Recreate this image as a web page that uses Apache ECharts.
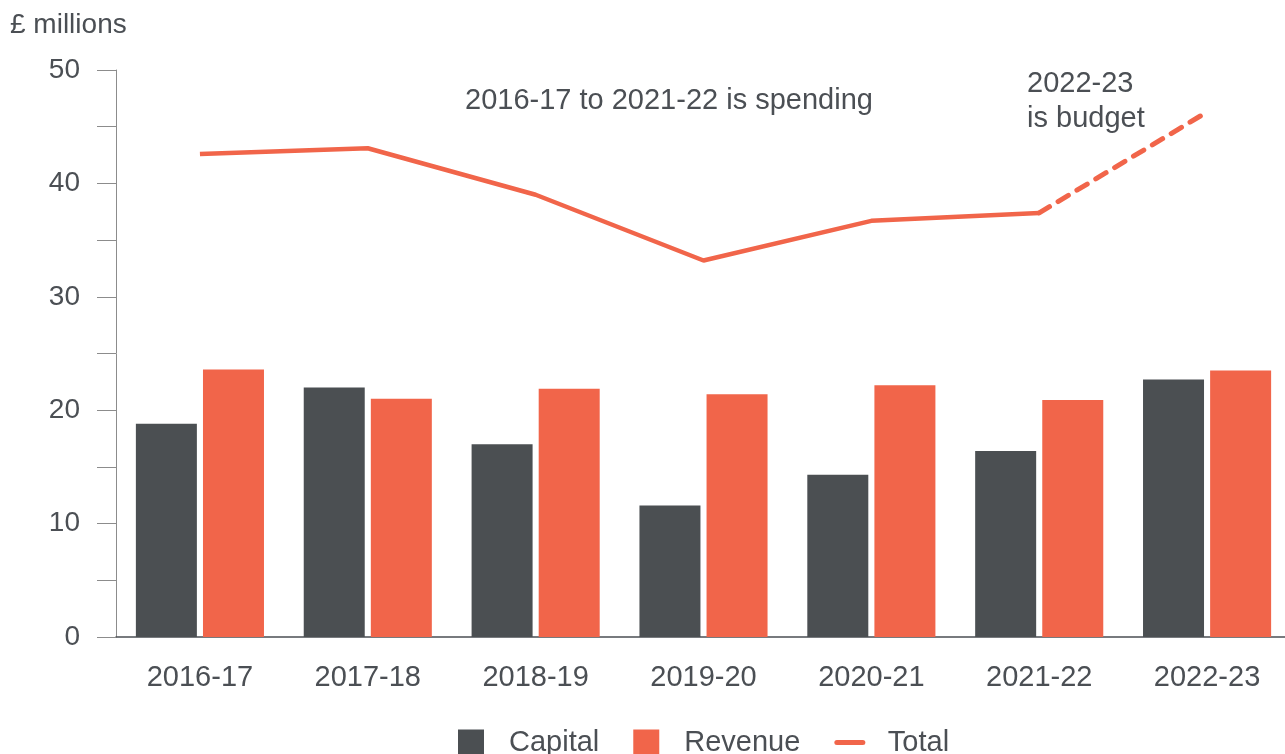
<!DOCTYPE html>
<html lang="en">
<head>
    <meta charset="UTF-8" />
    <title>Capital and revenue</title>
    <script src="https://cdn.jsdelivr.net/npm/echarts@6/dist/echarts.min.js"></script>
    <style type="text/css">
        html, body { margin: 0; padding: 0; background: #fff; overflow: hidden; }
        /* slightly wider than the window: the last band runs past the right edge */
        #chart { width: 1291px; height: 754px; }
    </style>
</head>
<body>
    <div id="chart"></div>
    <script type="text/javascript">
        // data (£ millions)
        var years = ['2016-17', '2017-18', '2018-19', '2019-20', '2020-21', '2021-22', '2022-23'];
        var capital = [18.8, 22.0, 17.0, 11.6, 14.3, 16.4, 22.7];
        var revenue = [23.6, 21.0, 21.9, 21.4, 22.2, 20.9, 23.5];
        var totalSpent = [42.6, 43.1, 39.0, 33.2, 36.7, 37.4, null];
        var totalBudget = [null, null, null, null, null, 37.4, 46.3];

        var dark = '#4b4f52';
        var orange = '#f1654a';
        var textColor = '#4b4f54';
        var font = 'Liberation Sans, Arial, sans-serif';

        var chart = echarts.init(document.getElementById('chart'));
        var option = {
            backgroundColor: '#fff',
            animation: false,
            textStyle: { fontFamily: font, color: textColor },
            grid: { left: 116, right: 0, top: 70, bottom: 117 },
            legend: {
                left: 453,
                top: 723,
                itemWidth: 26,
                itemHeight: 26,
                itemGap: 34,
                textStyle: { fontSize: 29, color: textColor, fontFamily: font, padding: [0, 0, 0, 20] },
                data: [
                    { name: 'Capital', icon: 'rect' },
                    { name: 'Revenue', icon: 'rect' },
                    { name: 'Total', itemStyle: { opacity: 0 }, lineStyle: { width: 5, cap: 'round' } }
                ]
            },
            xAxis: {
                type: 'category',
                data: years,
                axisLine: { lineStyle: { color: textColor, width: 1.5 } },
                axisTick: { show: false },
                axisLabel: { fontSize: 29, color: textColor, margin: 26, fontFamily: font }
            },
            yAxis: {
                type: 'value',
                min: 0,
                max: 50,
                interval: 5,
                splitLine: { show: false },
                axisLine: { show: true, lineStyle: { color: '#8c8c8c', width: 1 } },
                axisTick: { show: true, length: 19, lineStyle: { color: '#8c8c8c' } },
                axisLabel: {
                    fontSize: 28, color: textColor, margin: 36, fontFamily: font,
                    formatter: function (v) { return v % 10 === 0 ? String(v) : ''; }
                }
            },
            graphic: [
                { type: 'text', left: 10, top: 11, style: { text: '£ millions', fontSize: 28, fill: textColor, fontFamily: font } },
                { type: 'text', left: 465, top: 86, style: { text: '2016-17 to 2021-22 is spending', fontSize: 29, fill: textColor, fontFamily: font } },
                { type: 'text', left: 1027, top: 66, style: { text: '2022-23\nis budget', fontSize: 29, lineHeight: 35, fill: textColor, fontFamily: font } }
            ],
            series: [
                {
                    name: 'Capital', type: 'bar', data: capital,
                    barWidth: 61, barGap: '10%',
                    itemStyle: { color: dark }
                },
                {
                    name: 'Revenue', type: 'bar', data: revenue,
                    barWidth: 61, barGap: '10%',
                    itemStyle: { color: orange }
                },
                {
                    name: 'Total', type: 'line', data: totalSpent,
                    symbol: 'none', z: 5,
                    lineStyle: { color: orange, width: 4.5 },
                    itemStyle: { color: orange }
                },
                {
                    name: 'Total', type: 'line', data: totalBudget,
                    symbol: 'none', z: 5,
                    lineStyle: { color: orange, width: 5, type: [12, 10], cap: 'round' },
                    itemStyle: { color: orange }
                }
            ]
        };
        chart.setOption(option, true);
    </script>
</body>
</html>
